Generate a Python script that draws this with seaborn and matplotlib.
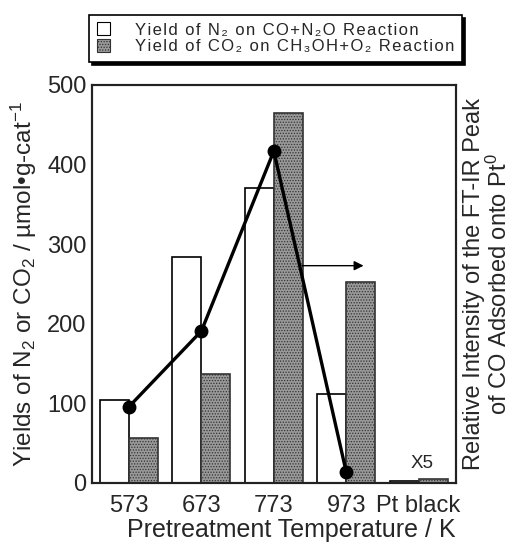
import pandas as pd
import numpy as np
import matplotlib
matplotlib.use("Agg")
import matplotlib.pyplot as plt
import seaborn as sns
from matplotlib.patches import Patch

# values
categories = ["573", "673", "773", "973", "Pt black"]
n2_yield = [104, 284, 371, 112, 2.5]
co2_yield = [57, 137, 465, 253, 5]
ftir_categories = ["573", "673", "773", "973"]
ftir_intensity = [96, 191, 417, 14]

series_names = ["N2", "CO2"]
legend_labels = ["Yield of N₂ on CO+N₂O Reaction",
                 "Yield of CO₂ on CH₃OH+O₂ Reaction"]

df = pd.DataFrame({
    "Temperature": categories * 2,
    "Yield": n2_yield + co2_yield,
    "Series": [series_names[0]] * len(categories) + [series_names[1]] * len(categories),
})

sns.set_style("white")
plt.rcParams["font.family"] = ["Liberation Sans", "DejaVu Sans"]
plt.rcParams["mathtext.fontset"] = "custom"
plt.rcParams["mathtext.rm"] = "Liberation Sans"
plt.rcParams["mathtext.default"] = "regular"
plt.rcParams["hatch.color"] = "#333333"
plt.rcParams["hatch.linewidth"] = 0.6

fig = plt.figure(figsize=(5.12, 5.43), dpi=100)
ax = fig.add_axes([0.18, 0.1105, 0.711, 0.733])

sns.barplot(data=df, x="Temperature", y="Yield", hue="Series", order=categories,
            hue_order=series_names, palette=["white", "#999999"], width=0.8,
            edgecolor="black", linewidth=1.2, legend=False, ax=ax)

# dotted texture on the CO2 bars
for bar in ax.patches[len(categories):]:
    bar.set_hatch("......")
    bar.set_edgecolor("#333333")

ax.set_ylim(0, 500)
ax.set_xlim(-0.51, 4.52)
ax.set_yticks([0, 100, 200, 300, 400, 500])
ax.tick_params(axis="both", length=0, labelsize=17)
ax.tick_params(axis="x", pad=9)
ax.tick_params(axis="y", pad=4)
for s in ax.spines.values():
    s.set_color("#222222")
    s.set_linewidth(1.5)

ax.set_xlabel("Pretreatment Temperature / K", fontsize=18, labelpad=0)
ax.xaxis.set_label_coords(0.547, -0.087)
ax.set_ylabel("Yields of N$_2$ or CO$_2$ / µmol•g-cat$^{-1}$", fontsize=17.5, labelpad=6)

# FT-IR intensity on the right axis
ax2 = ax.twinx()
ax2.plot(range(len(ftir_categories)), ftir_intensity, color="black", lw=2.4,
         marker="o", markersize=9)
ax2.set_ylim(0, 500)
ax2.set_yticks([])
ax2.set_ylabel("Relative Intensity of the FT-IR Peak\nof CO Adsorbed onto Pt$^0$",
               fontsize=17, labelpad=5, linespacing=1.1)
for s in ax2.spines.values():
    s.set_color("#222222")
    s.set_linewidth(1.5)

ax.annotate("", xy=(3.24, 273), xytext=(2.39, 273),
            arrowprops=dict(arrowstyle="-|>", color="black", lw=1.0,
                            mutation_scale=14, shrinkA=0, shrinkB=0))
ax.text(4.05, 25, "X5", fontsize=13.5, ha="center", va="center")


def spaced(s):
    # wide letter spacing like the original legend
    return "\u200a".join(s)


handles = [Patch(facecolor="white", edgecolor="black", lw=0.8),
           Patch(facecolor="#999999", edgecolor="#333333", hatch="......", lw=0.8)]
leg = fig.legend(handles, [spaced(t) for t in legend_labels], loc="lower left",
                 bbox_to_anchor=(0.174, 0.886, 0.728, 0.09), mode="expand",
                 fontsize=12, frameon=True, fancybox=False,
                 shadow={"color": "black", "alpha": 1.0},
                 handlelength=0.8, handleheight=0.8, handletextpad=1.5,
                 borderpad=0.45, labelspacing=0.1, borderaxespad=0)
leg.get_frame().set_edgecolor("black")
leg.get_frame().set_linewidth(1.2)

fig.savefig("out.png", dpi=100)
